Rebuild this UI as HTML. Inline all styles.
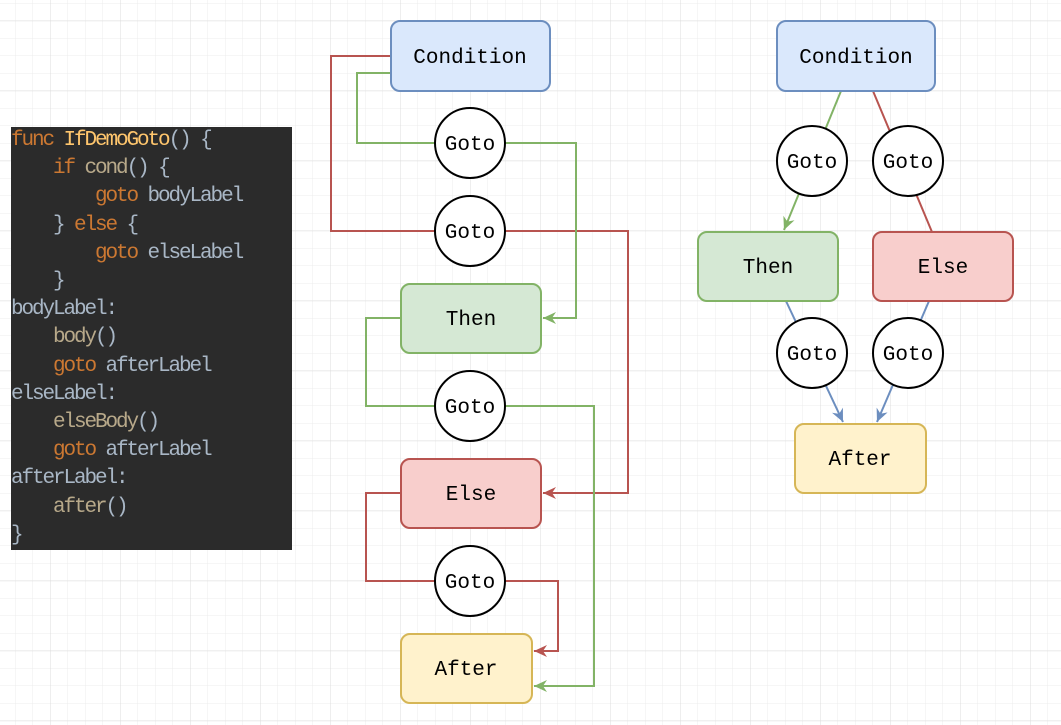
<!DOCTYPE html>
<html><head><meta charset="utf-8"><style>
html,body{margin:0;padding:0;width:1061px;height:725px;overflow:hidden;background:#fff}
svg{display:block}
.code{position:absolute;left:11px;top:127px;width:281px;height:423px;background:#2b2b2b;font-family:"Liberation Mono",monospace;font-size:21px;letter-spacing:-2.1px;line-height:28.2px;color:#a9b7c6;white-space:pre;box-sizing:border-box;overflow:hidden}
.k{color:#cc7832}.f{color:#ffc66d}.c{color:#b8a98a}
</style></head><body>
<svg width="1061" height="725" xmlns="http://www.w3.org/2000/svg">
<defs>
<pattern id="g" x="15" y="3" width="17.5" height="17.5" patternUnits="userSpaceOnUse"><path d="M0 0H17.5M0 0V17.5" stroke="#ececec" stroke-width="1" fill="none"/></pattern>
<pattern id="G" x="50" y="20.7" width="70" height="70" patternUnits="userSpaceOnUse"><path d="M0 0H70M0 0V70" stroke="#dcdcdc" stroke-width="1" fill="none"/></pattern>
<marker id="ag" markerWidth="14" markerHeight="14" refX="13" refY="7" orient="auto" markerUnits="userSpaceOnUse"><path d="M0 1L13 7L0 13L4 7z" fill="#82b366"/></marker>
<marker id="ar" markerWidth="14" markerHeight="14" refX="13" refY="7" orient="auto" markerUnits="userSpaceOnUse"><path d="M0 1L13 7L0 13L4 7z" fill="#b85450"/></marker>
<marker id="ab" markerWidth="14" markerHeight="14" refX="13" refY="7" orient="auto" markerUnits="userSpaceOnUse"><path d="M0 1L13 7L0 13L4 7z" fill="#6c8ebf"/></marker>
</defs>
<rect width="1061" height="725" fill="url(#g)"/>
<rect width="1061" height="725" fill="url(#G)"/>
<g fill="none" stroke-width="2">
<path d="M391 56H331V231H435M505 231H628V493H543" stroke="#b85450" marker-end="url(#ar)"/>
<path d="M391 73H357V143H435M505 143H576V318H543" stroke="#82b366" marker-end="url(#ag)"/>
<path d="M401 318H366V406H435M505 406H594V686H534" stroke="#82b366" marker-end="url(#ag)"/>
<path d="M401 493H366V581H435M505 581H558V651H534" stroke="#b85450" marker-end="url(#ar)"/>
<path d="M841 91L784 230" stroke="#82b366" marker-end="url(#ag)"/>
<path d="M873 91L932 232" stroke="#b85450"/>
<path d="M786 301L843 422" stroke="#6c8ebf" marker-end="url(#ab)"/>
<path d="M929 301L877 422" stroke="#6c8ebf" marker-end="url(#ab)"/>
</g>
<g stroke-width="2">
<rect x="391" y="21" width="159" height="70" rx="9" fill="#dae8fc" stroke="#6c8ebf"/>
<rect x="401" y="284" width="140" height="69" rx="9" fill="#d5e8d4" stroke="#82b366"/>
<rect x="401" y="459" width="140" height="69" rx="9" fill="#f8cecc" stroke="#b85450"/>
<rect x="401" y="634" width="131" height="69" rx="9" fill="#fff2cc" stroke="#d6b656"/>
<rect x="777" y="21" width="158" height="70" rx="9" fill="#dae8fc" stroke="#6c8ebf"/>
<rect x="698" y="232" width="140" height="69" rx="9" fill="#d5e8d4" stroke="#82b366"/>
<rect x="873" y="232" width="140" height="69" rx="9" fill="#f8cecc" stroke="#b85450"/>
<rect x="795" y="424" width="131" height="69" rx="9" fill="#fff2cc" stroke="#d6b656"/>
<g fill="#fff" stroke="#000">
<circle cx="470" cy="143" r="35"/><circle cx="470" cy="231" r="35"/>
<circle cx="470" cy="406" r="35"/><circle cx="470" cy="581" r="35"/>
<circle cx="812" cy="161" r="35"/><circle cx="908" cy="161" r="35"/>
<circle cx="812" cy="353" r="35"/><circle cx="908" cy="353" r="35"/>
</g></g>
<g font-family="Liberation Mono, monospace" font-size="21" text-anchor="middle" fill="#000">
<text x="470" y="63">Condition</text>
<text x="470" y="150">Goto</text><text x="470" y="238">Goto</text>
<text x="471" y="325">Then</text>
<text x="470" y="413">Goto</text>
<text x="471" y="500">Else</text>
<text x="470" y="588">Goto</text>
<text x="466" y="675">After</text>
<text x="856" y="63">Condition</text>
<text x="812" y="168">Goto</text><text x="908" y="168">Goto</text>
<text x="768" y="273">Then</text><text x="943" y="273">Else</text>
<text x="812" y="360">Goto</text><text x="908" y="360">Goto</text>
<text x="860" y="465">After</text>
</g>
</svg>
<div class="code"><span class="k">func</span> <span class="f">IfDemoGoto</span>() {
    <span class="k">if</span> <span class="c">cond</span>() {
        <span class="k">goto</span> bodyLabel
    } <span class="k">else</span> {
        <span class="k">goto</span> elseLabel
    }
bodyLabel:
    <span class="c">body</span>()
    <span class="k">goto</span> afterLabel
elseLabel:
    <span class="c">elseBody</span>()
    <span class="k">goto</span> afterLabel
afterLabel:
    <span class="c">after</span>()
}</div>
</body></html>
